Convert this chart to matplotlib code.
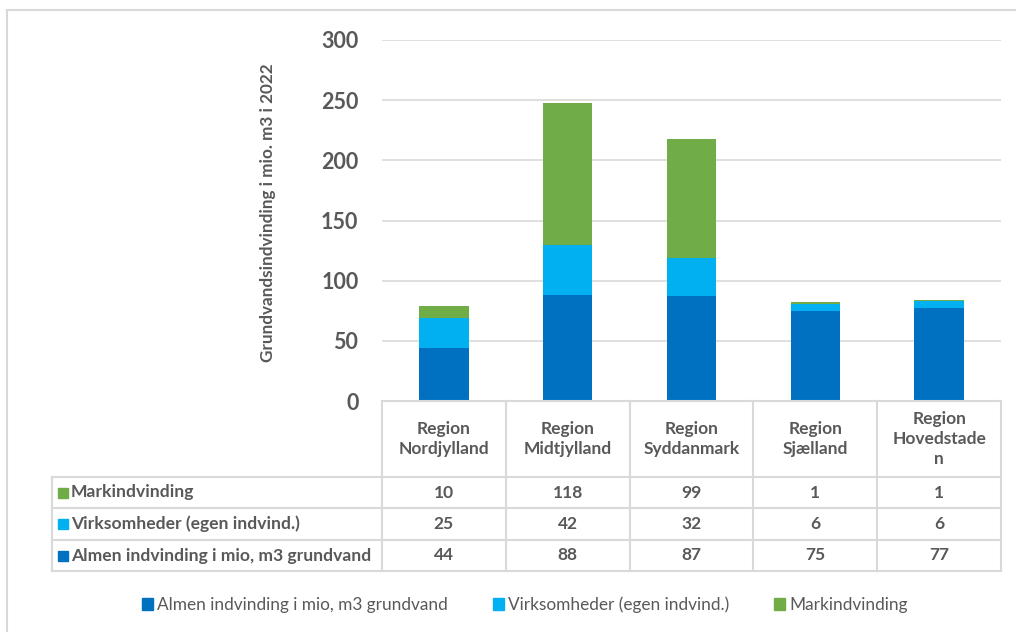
import matplotlib
matplotlib.use("Agg")
import matplotlib.pyplot as plt
from matplotlib import transforms
from matplotlib.patches import Rectangle
from matplotlib.lines import Line2D

regions = ["Region\nNordjylland", "Region\nMidtjylland", "Region\nSyddanmark",
           "Region\nSjælland", "Region\nHovedstade\nn"]
series_names = ["Almen indvinding i mio, m3 grundvand",
                "Virksomheder (egen indvind.)",
                "Markindvinding"]
almen = [44, 88, 87, 75, 77]
virksomheder = [25, 42, 32, 6, 6]
mark = [10, 118, 99, 1, 1]
colors = ["#0070C0", "#00B0F0", "#70AD47"]
yticks = [0, 50, 100, 150, 200, 250, 300]
ylabel = "Grundvandsindvinding i mio. m3 i 2022"

W, H = 1016, 632
plt.rcParams['font.family'] = ['Lato', 'DejaVu Sans']
txt = "#595959"
grid_c = "#D9D9D9"

fig = plt.figure(figsize=(W / 100, H / 100), dpi=100)

def fx(px):
    return px / W

def fy(py):
    return 1 - py / H

# outer chart border
fig.add_artist(Rectangle((fx(7), fy(640)), fx(1020) - fx(7), fy(10) - fy(640),
                         transform=fig.transFigure, fill=False, edgecolor=grid_c, lw=1.5))

ax = fig.add_axes([fx(382), fy(401), fx(1001) - fx(382), fy(40) - fy(401)])
x = list(range(len(regions)))
bottom1 = almen
bottom2 = [a + v for a, v in zip(almen, virksomheder)]
ax.bar(x, almen, width=0.4, color=colors[0], zorder=3)
ax.bar(x, virksomheder, width=0.4, bottom=bottom1, color=colors[1], zorder=3)
ax.bar(x, mark, width=0.4, bottom=bottom2, color=colors[2], zorder=3)
ax.set_xlim(-0.5, len(regions) - 0.5)
ax.set_ylim(0, 300)
ax.set_yticks(yticks)
ax.set_yticklabels([str(t) for t in yticks], fontsize=15.5, fontweight='bold', color=txt)
ax.tick_params(axis='y', length=0, pad=17)
ax.set_xticks([])
for s in ax.spines.values():
    s.set_visible(False)
ax.grid(axis='y', color=grid_c, lw=1.2, zorder=0)
ax.set_axisbelow(True)

fig.text(fx(268), fy(213), ylabel, rotation=90, ha='center', va='center',
         fontsize=12.3, fontweight='bold', color=txt)

# data table
bt = transforms.blended_transform_factory(ax.transData, fig.transFigure)
lw = 1.5
y_top, rows_y = 401, [477, 508, 540, 571]
for b in [i - 0.5 for i in range(len(regions) + 1)]:
    fig.add_artist(Line2D([b, b], [fy(y_top), fy(571)], transform=bt, color=grid_c, lw=lw))
fig.add_artist(Line2D([-0.5, len(regions) - 0.5], [fy(y_top), fy(y_top)], transform=bt, color=grid_c, lw=lw))
for yy in rows_y:
    fig.add_artist(Line2D([fx(52), fx(1001)], [fy(yy), fy(yy)], transform=fig.transFigure, color=grid_c, lw=lw))
fig.add_artist(Line2D([fx(52), fx(52)], [fy(477), fy(571)], transform=fig.transFigure, color=grid_c, lw=lw))

for i, r in enumerate(regions):
    fig.text(i, fy(439), r, transform=bt, ha='center', va='center', fontsize=12.5,
             fontweight='bold', color=txt, linespacing=1.32)

table_rows = [(series_names[2], mark, colors[2]),
              (series_names[1], virksomheder, colors[1]),
              (series_names[0], almen, colors[0])]
for k, (name, vals, c) in enumerate(table_rows):
    yc = (rows_y[k] + rows_y[k + 1]) / 2
    fig.add_artist(Rectangle((fx(58), fy(yc + 5)), fx(10), fy(yc - 5) - fy(yc + 5),
                             transform=fig.transFigure, color=c))
    fig.text(fx(71), fy(yc), name, ha='left', va='center', fontsize=12.6,
             fontweight='bold', color=txt)
    for i, v in enumerate(vals):
        fig.text(i, fy(yc), str(v), transform=bt, ha='center', va='center',
                 fontsize=12.5, fontweight='bold', color=txt)

handles = [Rectangle((0, 0), 1, 1, color=c) for c in colors]
fig.legend(handles, series_names, loc='center', bbox_to_anchor=(fx(525), fy(605)),
           ncol=3, frameon=False, fontsize=12.4, handlelength=0.65, handleheight=0.65,
           handletextpad=0.25, columnspacing=2.6, labelcolor=txt)

fig.savefig("out.png", dpi=100)
